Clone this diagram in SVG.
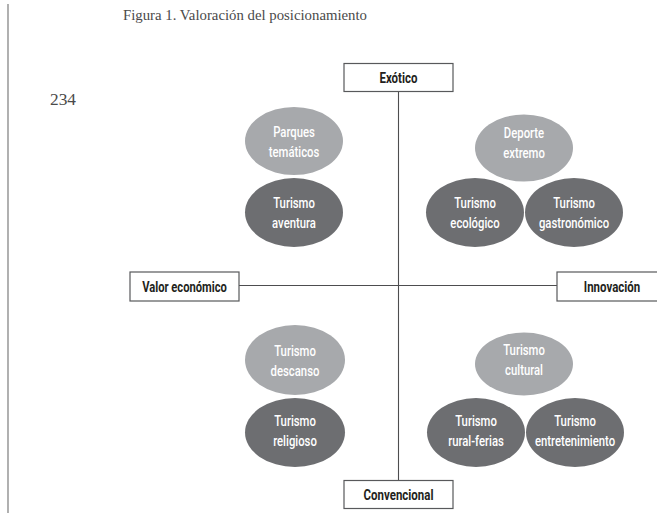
<svg xmlns="http://www.w3.org/2000/svg" width="657" height="513" viewBox="0 0 657 513">
<style>
.lbl{font-family:Roboto,"Liberation Sans",Arial,sans-serif;font-weight:bold;font-size:14px;fill:#231f20;text-anchor:middle}
.et{font-family:Roboto,"Liberation Sans",Arial,sans-serif;font-weight:500;font-size:14.5px;fill:#ffffff;text-anchor:middle}
.light{fill:#a7a9ac}
.dark{fill:#6d6e71}
.box{fill:#ffffff;stroke:#58595b;stroke-width:1.2}
.axis{stroke:#4d4d4f;stroke-width:1.1;fill:none}
</style>
<rect width="657" height="513" fill="#ffffff"/>
<line x1="8" y1="4" x2="8" y2="513" stroke="#9d9d9d" stroke-width="1.6"/>
<text x="123" y="20" font-family="Liberation Serif,'Times New Roman',serif" font-size="15" fill="#4a4a4a" textLength="244" lengthAdjust="spacingAndGlyphs">Figura 1. Valoración del posicionamiento</text>
<text x="50" y="105" font-family="Liberation Serif,'Times New Roman',serif" font-size="17" fill="#4a4a4a" textLength="26" lengthAdjust="spacingAndGlyphs">234</text>

<g id="connectors">
<line class="axis" x1="398.5" y1="92" x2="398.5" y2="480"/>
<line class="axis" x1="239" y1="285.5" x2="557" y2="285.5"/>
</g>

<g id="exotico">
<rect class="box" x="344" y="63.5" width="109" height="28"/>
<text class="lbl" transform="translate(398.5,82.5) scale(0.82,1)">Exótico</text>
</g>
<g id="convencional">
<rect class="box" x="344" y="480.5" width="109" height="28"/>
<text class="lbl" transform="translate(398.5,499.5) scale(0.82,1)">Convencional</text>
</g>
<g id="valor">
<rect class="box" x="130" y="272" width="109" height="29"/>
<text class="lbl" transform="translate(184.5,291.5) scale(0.8,1)">Valor económico</text>
</g>
<g id="innovacion">
<rect class="box" x="557" y="272" width="110" height="29"/>
<text class="lbl" transform="translate(612,291.5) scale(0.82,1)">Innovación</text>
</g>

<g id="parques">
<ellipse class="light" cx="294" cy="141" rx="49" ry="34"/>
<text class="et" transform="translate(294,137) scale(0.78,1)">Parques</text>
<text class="et" transform="translate(294,157) scale(0.78,1)">temáticos</text>
</g>
<g id="aventura">
<ellipse class="dark" cx="294" cy="212.5" rx="49" ry="34.5"/>
<text class="et" transform="translate(294,208) scale(0.78,1)">Turismo</text>
<text class="et" transform="translate(294,228) scale(0.78,1)">aventura</text>
</g>
<g id="deporte">
<ellipse class="light" cx="524" cy="148" rx="49" ry="33.5"/>
<text class="et" transform="translate(524,138) scale(0.78,1)">Deporte</text>
<text class="et" transform="translate(524,158) scale(0.78,1)">extremo</text>
</g>
<g id="ecologico">
<ellipse class="dark" cx="475" cy="212.5" rx="49" ry="34.5"/>
<text class="et" transform="translate(475,208) scale(0.78,1)">Turismo</text>
<text class="et" transform="translate(475,228) scale(0.78,1)">ecológico</text>
</g>
<g id="gastronomico">
<ellipse class="dark" cx="574" cy="212.5" rx="49" ry="34.5"/>
<text class="et" transform="translate(574,208) scale(0.78,1)">Turismo</text>
<text class="et" transform="translate(574,228) scale(0.78,1)">gastronómico</text>
</g>
<g id="descanso">
<ellipse class="light" cx="295" cy="360" rx="50" ry="35"/>
<text class="et" transform="translate(295,356) scale(0.78,1)">Turismo</text>
<text class="et" transform="translate(295,376) scale(0.78,1)">descanso</text>
</g>
<g id="religioso">
<ellipse class="dark" cx="295" cy="432.5" rx="50" ry="34.5"/>
<text class="et" transform="translate(295,426) scale(0.78,1)">Turismo</text>
<text class="et" transform="translate(295,446) scale(0.78,1)">religioso</text>
</g>
<g id="cultural">
<ellipse class="light" cx="524" cy="364" rx="49" ry="31.5"/>
<text class="et" transform="translate(524,355) scale(0.78,1)">Turismo</text>
<text class="et" transform="translate(524,375) scale(0.78,1)">cultural</text>
</g>
<g id="rural">
<ellipse class="dark" cx="476" cy="432.5" rx="49" ry="34.5"/>
<text class="et" transform="translate(476,426) scale(0.78,1)">Turismo</text>
<text class="et" transform="translate(476,446) scale(0.78,1)">rural-ferias</text>
</g>
<g id="entretenimiento">
<ellipse class="dark" cx="575" cy="432.5" rx="49" ry="34.5"/>
<text class="et" transform="translate(575,426) scale(0.78,1)">Turismo</text>
<text class="et" transform="translate(575,446) scale(0.78,1)">entretenimiento</text>
</g>
</svg>
